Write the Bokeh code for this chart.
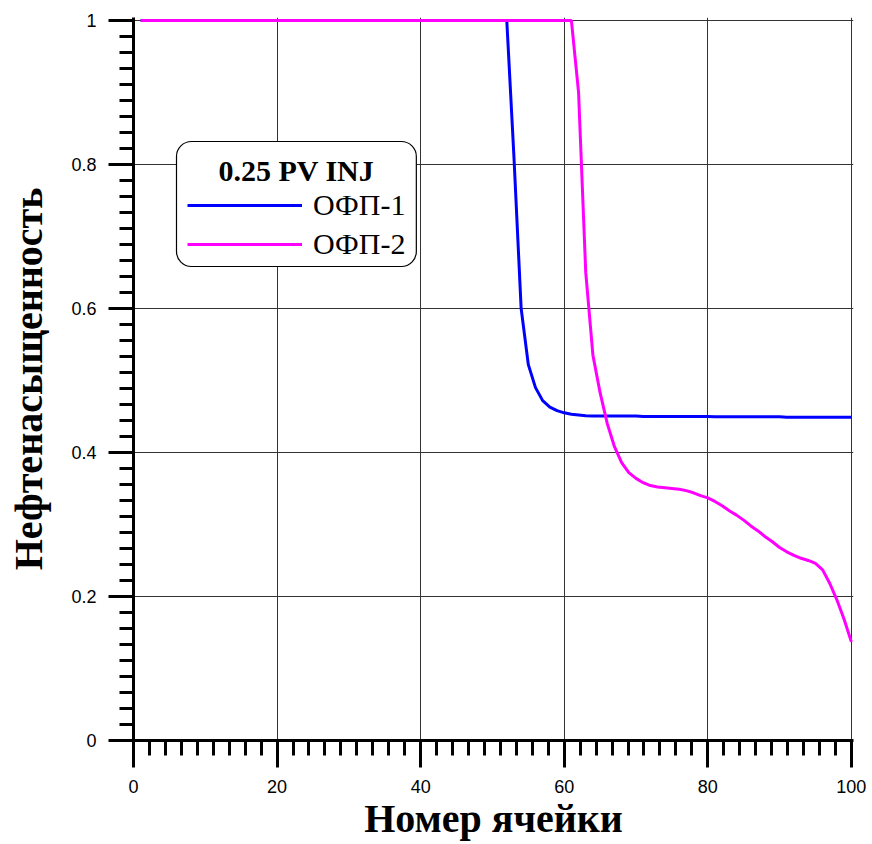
from bokeh.plotting import figure
from bokeh.models import (Range1d, FixedTicker, Legend, LegendItem, Label)
from bokeh.embed import file_html
from bokeh.resources import INLINE
import numpy as np

# ---- data ----
cells = list(range(1, 101))

ofp1_tail = [0.81, 0.60, 0.522, 0.49, 0.472, 0.463, 0.458, 0.455, 0.453, 0.452,
             0.451]  # cells 53..63
ofp1 = ([1.0] * 52 + ofp1_tail + [0.4505] * 7 + [0.450] * 10 + [0.4495] * 10
        + [0.449] * 10)

ofp2_tail = [0.90, 0.65, 0.535, 0.483, 0.44, 0.408, 0.386, 0.372, 0.364, 0.358,   # 62..71
             0.354, 0.352, 0.351, 0.350, 0.349, 0.347, 0.344, 0.340, 0.337, 0.332,  # 72..81
             0.326, 0.319, 0.313, 0.306, 0.298, 0.291, 0.283, 0.276, 0.268, 0.262,  # 82..91
             0.257, 0.253, 0.250, 0.246, 0.237, 0.218, 0.195, 0.168, 0.137]         # 92..100
ofp2 = [1.0] * 61 + ofp2_tail

series_names = ["ОФП-1", "ОФП-2"]
legend_title = "0.25 PV INJ"
x_title = "Номер ячейки"
y_title = "Нефтенасыщенность"

x_ticks = [0, 20, 40, 60, 80, 100]
x_tick_labels = ["0", "20", "40", "60", "80", "100"]
y_ticks = [0, 0.2, 0.4, 0.6, 0.8, 1.0]
y_tick_labels = ["0", "0.2", "0.4", "0.6", "0.8", "1"]

# ---- figure ----
p = figure(width=872, height=844, output_backend="svg", toolbar_location=None,
           x_range=Range1d(0, 100.3), y_range=Range1d(0, 1.004))
p.min_border_left = 133
p.min_border_right = 19
p.min_border_top = 17
p.min_border_bottom = 104
p.outline_line_color = None
p.background_fill_color = "white"
p.border_fill_color = "white"

x_minor = [v for v in np.linspace(0, 100, 46)]
y_minor = [v for v in np.linspace(0, 1, 46)]

p.xaxis.ticker = FixedTicker(ticks=x_ticks, minor_ticks=x_minor)
p.yaxis.ticker = FixedTicker(ticks=y_ticks, minor_ticks=y_minor)
p.xaxis.major_label_overrides = {t: l for t, l in zip(x_ticks, x_tick_labels)}
p.yaxis.major_label_overrides = {t: l for t, l in zip(y_ticks, y_tick_labels)}

for ax in (p.xaxis, p.yaxis):
    ax.axis_line_width = 3
    ax.axis_line_color = "black"
    ax.major_tick_line_width = 3
    ax.minor_tick_line_width = 3
    ax.major_tick_line_color = "black"
    ax.minor_tick_line_color = "black"
    ax.major_tick_in = 0
    ax.minor_tick_in = 0
    ax.major_label_text_font = "Liberation Sans"
    ax.major_label_text_font_size = "18px"
    ax.major_label_text_color = "black"
    ax.axis_label_text_font = "Liberation Serif"
    ax.axis_label_text_font_style = "bold"
    ax.axis_label_text_font_size = "40px"
    ax.axis_label_text_color = "black"

p.xaxis.major_tick_out = 27
p.xaxis.minor_tick_out = 15
p.yaxis.major_tick_out = 25
p.yaxis.minor_tick_out = 14
p.xaxis.major_label_standoff = 12
p.yaxis.major_label_standoff = 12
p.xaxis.axis_label_standoff = 0
p.yaxis.axis_label_standoff = 17
p.xaxis.axis_label = x_title
p.yaxis.axis_label = y_title

p.grid.grid_line_color = "#333333"
p.grid.grid_line_width = 1
p.xgrid.ticker = FixedTicker(ticks=x_ticks)
p.ygrid.ticker = FixedTicker(ticks=y_ticks)

r1 = p.line(cells, ofp1, line_color="#0000ff", line_width=3)
r2 = p.line(cells, ofp2, line_color="#ff00ff", line_width=3)

# legend box with title
box = Label(x=43, y=599, x_units="screen", y_units="screen", text=legend_title,
            anchor="top_left", text_align="center", text_baseline="top",
            text_font="Liberation Serif", text_font_style="bold", text_font_size="30px",
            text_color="black",
            border_line_color="black", border_line_width=1.2,
            background_fill_color="white", background_fill_alpha=1.0,
            border_radius=15,
            padding=dict(left=42, right=42, top=12, bottom=80))
p.add_layout(box)

legend = Legend(items=[LegendItem(label=series_names[0], renderers=[r1]),
                       LegendItem(label=series_names[1], renderers=[r2])],
                location=(54, 478), orientation="vertical",
                glyph_width=115, glyph_height=36, label_height=36, spacing=3,
                label_standoff=11, padding=0, margin=0,
                border_line_alpha=0, background_fill_alpha=0,
                label_text_font="Liberation Serif", label_text_font_size="30px",
                label_text_color="black")
p.add_layout(legend)

open("out.html", "w").write(file_html(p, INLINE))
